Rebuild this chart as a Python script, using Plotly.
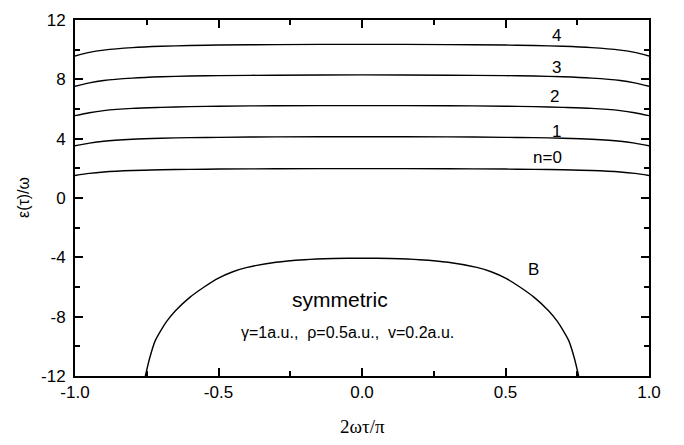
import plotly.graph_objects as go

# ---- data ----
x_levels = [-1.0, -0.95, -0.9, -0.8, -0.7, -0.6, -0.5, -0.3, 0.0, 0.3, 0.5, 0.6, 0.7, 0.8, 0.9, 0.95, 1.0]
n0 = [1.52, 1.66, 1.75, 1.85, 1.90, 1.93, 1.95, 1.97, 1.98, 1.97, 1.95, 1.93, 1.90, 1.85, 1.75, 1.66, 1.52]
n1 = [3.52, 3.70, 3.83, 3.96, 4.03, 4.07, 4.09, 4.12, 4.13, 4.12, 4.09, 4.07, 4.03, 3.96, 3.83, 3.70, 3.52]
n2 = [5.55, 5.75, 5.89, 6.04, 6.11, 6.16, 6.19, 6.22, 6.23, 6.22, 6.19, 6.16, 6.11, 6.04, 5.89, 5.75, 5.55]
n3 = [7.53, 7.76, 7.92, 8.08, 8.17, 8.22, 8.25, 8.28, 8.30, 8.28, 8.25, 8.22, 8.17, 8.08, 7.92, 7.76, 7.53]
n4 = [9.57, 9.82, 9.97, 10.14, 10.23, 10.28, 10.31, 10.34, 10.36, 10.34, 10.31, 10.28, 10.23, 10.14, 9.97, 9.82, 9.57]

x_B = [-0.755, -0.74, -0.72, -0.70, -0.68, -0.65, -0.6, -0.55, -0.5, -0.45, -0.4, -0.3, -0.2, -0.1, 0.0,
       0.1, 0.2, 0.3, 0.4, 0.45, 0.5, 0.55, 0.6, 0.65, 0.68, 0.70, 0.72, 0.74, 0.755]
y_B = [-12.0, -10.8, -9.6, -8.9, -8.3, -7.6, -6.7, -6.0, -5.4, -4.97, -4.68, -4.33, -4.16, -4.08, -4.05,
       -4.08, -4.16, -4.33, -4.68, -4.97, -5.4, -6.0, -6.7, -7.6, -8.3, -8.9, -9.6, -10.8, -12.0]

level_series = [("n=0", n0), ("1", n1), ("2", n2), ("3", n3), ("4", n4)]

curve_labels = ["4", "3", "2", "1", "n=0", "B"]
label_x = [0.679, 0.679, 0.672, 0.676, 0.648, 0.596]
label_y = [10.95, 8.78, 6.81, 4.5, 2.73, -4.83]

x_ticks = [-1.0, -0.5, 0.0, 0.5, 1.0]
x_tick_text = ["-1.0", "-0.5", "0.0", "0.5", "1.0"]
y_ticks = [-12, -8, -4, 0, 4, 8, 12]
y_tick_text = ["-12", "-8", "-4", "0", "4", "8", "12"]

fig = go.Figure()
for name, ys in level_series:
    fig.add_trace(go.Scatter(x=x_levels, y=ys, mode="lines", name=name,
                             line=dict(color="black", width=1.4, shape="spline", smoothing=0.8),
                             showlegend=False, hoverinfo="skip"))
fig.add_trace(go.Scatter(x=x_B, y=y_B, mode="lines", name="B",
                         line=dict(color="black", width=1.4, shape="spline", smoothing=0.5),
                         showlegend=False, hoverinfo="skip"))

axis_font = dict(family="Liberation Sans, Arial, sans-serif", size=17, color="black")

fig.update_xaxes(range=[-1, 1], tickmode="array", tickvals=x_ticks, ticktext=x_tick_text,
                 ticks="inside", ticklen=8, tickwidth=1.5, tickcolor="black",
                 showline=True, linecolor="black", linewidth=2, mirror="allticks",
                 showgrid=False, zeroline=False, tickfont=axis_font,
                 minor=dict(dtick=0.25, tick0=0, ticks="inside", ticklen=5, tickwidth=1.5,
                            tickcolor="black", showgrid=False))
fig.update_yaxes(range=[-12, 12], tickmode="array", tickvals=y_ticks, ticktext=y_tick_text,
                 ticks="inside", ticklen=8, tickwidth=1.5, tickcolor="black",
                 showline=True, linecolor="black", linewidth=2, mirror="allticks",
                 showgrid=False, zeroline=False, tickfont=axis_font, ticklabelstandoff=4,
                 minor=dict(dtick=2, tick0=0, ticks="inside", ticklen=5, tickwidth=1.5,
                            tickcolor="black", showgrid=False))

annotations = []
for t, ax_, ay_ in zip(curve_labels, label_x, label_y):
    annotations.append(dict(x=ax_, y=ay_, xref="x", yref="y", text=t, showarrow=False,
                            font=dict(family="Liberation Sans, Arial, sans-serif", size=17, color="black")))
annotations.append(dict(x=-0.077, y=-6.87, xref="x", yref="y", text="symmetric", showarrow=False,
                        font=dict(family="Liberation Sans, Arial, sans-serif", size=21, color="black")))
annotations.append(dict(x=-0.052, y=-9.04, xref="x", yref="y",
                        text="γ=1a.u.,  ρ=0.5a.u.,  v=0.2a.u.", showarrow=False,
                        font=dict(family="Liberation Sans, Arial, sans-serif", size=16, color="black")))
# axis titles
annotations.append(dict(x=0.5, y=0, xref="paper", yref="paper", text="2ωτ/π", showarrow=False,
                        yshift=-50, yanchor="middle",
                        font=dict(family="Liberation Serif, Times New Roman, serif", size=19, color="black")))
annotations.append(dict(x=0, y=0.5, xref="paper", yref="paper", text="ε(τ)/ω", showarrow=False,
                        xshift=-52, xanchor="center", textangle=-90,
                        font=dict(family="Liberation Sans, Arial, sans-serif", size=16, color="black")))

fig.update_layout(width=684, height=445, margin=dict(l=75, r=35, t=11, b=69),
                  paper_bgcolor="white", plot_bgcolor="white", annotations=annotations)

fig.write_html("out.html")
